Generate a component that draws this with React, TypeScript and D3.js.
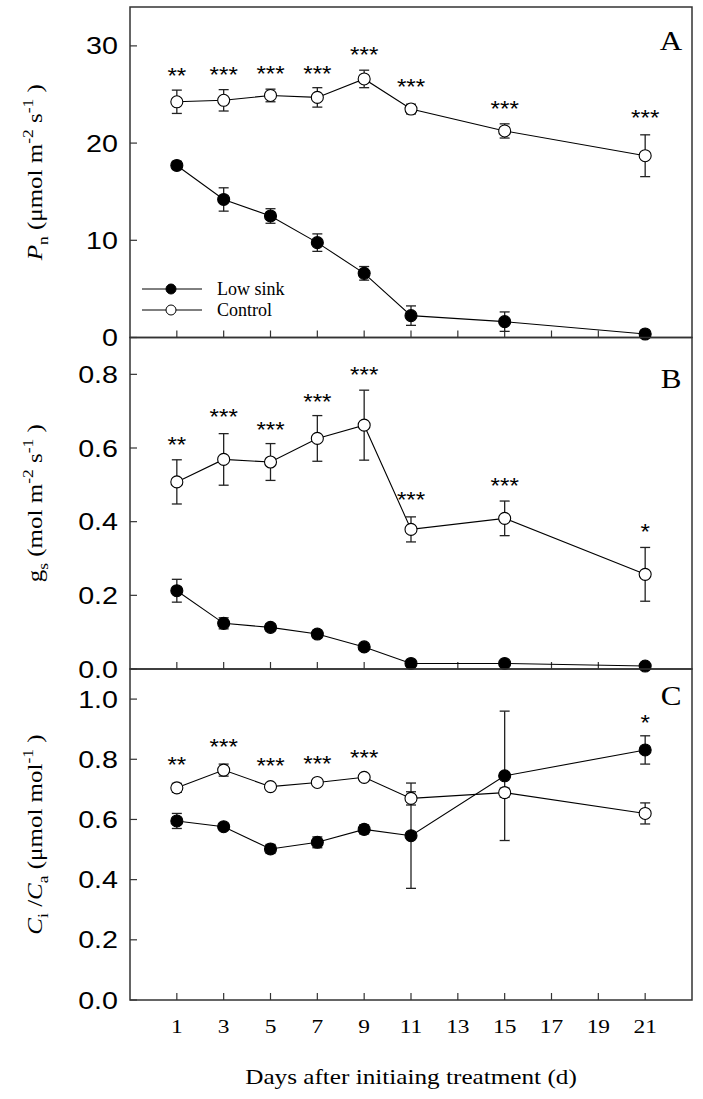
import React from "react";
import * as d3 from "d3";

// ---------- data ----------
const days = [1, 3, 5, 7, 9, 11, 15, 21];
const xTickValues = [1, 3, 5, 7, 9, 11, 13, 15, 17, 19, 21];

// Panel A: Pn
const pnLow = [17.7, 14.2, 12.5, 9.76, 6.6, 2.25, 1.63, 0.36];
const pnLowErr = [0.42, 1.2, 0.75, 0.9, 0.7, 1.0, 1.0, 0.1];
const pnCtrl = [24.25, 24.4, 24.9, 24.7, 26.6, 23.5, 21.25, 18.7];
const pnCtrlErr = [1.2, 1.1, 0.65, 1.0, 0.9, 0.5, 0.73, 2.15];
const pnSig = ["**", "***", "***", "***", "***", "***", "***", "***"];
const pnSigY = [27.5, 27.55, 27.7, 27.7, 29.6, 26.3, 24.1, 23.1];
const pnTicks = [0, 10, 20, 30];

// Panel B: gs
const gsLow = [0.2125, 0.124, 0.113, 0.095, 0.06, 0.015, 0.015, 0.008];
const gsLowErr = [0.031, 0.015, 0.01, 0.01, 0.005, 0.004, 0.004, 0.003];
const gsCtrl = [0.508, 0.569, 0.562, 0.626, 0.662, 0.379, 0.409, 0.257];
const gsCtrlErr = [0.06, 0.07, 0.05, 0.062, 0.095, 0.034, 0.047, 0.073];
const gsSig = ["**", "***", "***", "***", "***", "***", "***", "*"];
const gsSigY = [0.624, 0.698, 0.664, 0.741, 0.813, 0.474, 0.513, 0.388];
const gsTicks = [0, 0.2, 0.4, 0.6, 0.8];

// Panel C: Ci/Ca
const ciLow = [0.595, 0.576, 0.502, 0.524, 0.567, 0.546, 0.745, 0.831];
const ciLowErr = [0.025, 0.01, 0.015, 0.018, 0.015, 0.175, 0.215, 0.047];
const ciCtrl = [0.705, 0.764, 0.709, 0.723, 0.74, 0.67, 0.689, 0.62];
const ciCtrlErr = [0.015, 0.02, 0.01, 0.01, 0.012, 0.022, 0.015, 0.035];
const ciSig = ["**", "***", "***", "***", "***", "", "", "*"];
const ciSigY = [0.8, 0.858, 0.797, 0.803, 0.823, 0, 0, 0.94];
const ciTicks = [0, 0.2, 0.4, 0.6, 0.8, 1.0];

const legendLabels = ["Low sink", "Control"];
const xTitle = "Days after initiaing treatment (d)";

// ---------- layout ----------
const W = 703;
const H = 1099;
const left = 130;
const right = 692;
const edges = [7, 337.5, 669, 1000];
const SERIF = "'Liberation Serif', 'Times New Roman', serif";
const SANS = "'Liberation Sans', Arial, sans-serif";
const FRAME = "#333";

export default function App() {
  const x = d3.scaleLinear().domain([-1, 23]).range([left, right]);

  const panels = [
    {
      low: pnLow, lowErr: pnLowErr, ctrl: pnCtrl, ctrlErr: pnCtrlErr,
      sig: pnSig, sigY: pnSigY, ticks: pnTicks, domain: [0, 34],
      fmt: d3.format("d"), letter: "A", letterY: 50,
    },
    {
      low: gsLow, lowErr: gsLowErr, ctrl: gsCtrl, ctrlErr: gsCtrlErr,
      sig: gsSig, sigY: gsSigY, ticks: gsTicks, domain: [0, 0.9],
      fmt: d3.format(".1f"), letter: "B", letterY: 388,
    },
    {
      low: ciLow, lowErr: ciLowErr, ctrl: ciCtrl, ctrlErr: ciCtrlErr,
      sig: ciSig, sigY: ciSigY, ticks: ciTicks, domain: [0, 1.1],
      fmt: d3.format(".1f"), letter: "C", letterY: 705,
    },
  ];

  const sub = 14;
  const labels = [
    (
      <>
        <tspan fontStyle="italic">P</tspan>
        <tspan fontSize={sub} dy={6}>n</tspan>
        <tspan dy={-6}> (μmol m</tspan>
        <tspan fontSize={sub} dy={-9}>-2</tspan>
        <tspan dy={9}> s</tspan>
        <tspan fontSize={sub} dy={-9}>-1</tspan>
        <tspan dy={9}> )</tspan>
      </>
    ),
    (
      <>
        <tspan>g</tspan>
        <tspan fontSize={sub} dy={6}>s</tspan>
        <tspan dy={-6}> (mol m</tspan>
        <tspan fontSize={sub} dy={-9}>-2</tspan>
        <tspan dy={9}> s</tspan>
        <tspan fontSize={sub} dy={-9}>-1</tspan>
        <tspan dy={9}> )</tspan>
      </>
    ),
    (
      <>
        <tspan fontStyle="italic">C</tspan>
        <tspan fontSize={sub} dy={6}>i</tspan>
        <tspan dy={-6}> /</tspan>
        <tspan fontStyle="italic">C</tspan>
        <tspan fontSize={sub} dy={6}>a</tspan>
        <tspan dy={-6}> (μmol mol</tspan>
        <tspan fontSize={sub} dy={-9}>-1</tspan>
        <tspan dy={9}> )</tspan>
      </>
    ),
  ];

  return (
    <svg
      width={W}
      height={H}
      style={{ position: "absolute", left: 0, top: 0, background: "#fff" }}
    >
      <rect x={0} y={0} width={W} height={H} fill="#fff" />
      {panels.map((p, pi) => {
        const top = edges[pi];
        const bottom = edges[pi + 1];
        const y = d3.scaleLinear().domain(p.domain).range([bottom, top]);
        const line = d3
          .line<number>()
          .x((_, i) => x(days[i]))
          .y((v) => y(v));
        const series = [
          { vals: p.low, errs: p.lowErr, fill: "#000" },
          { vals: p.ctrl, errs: p.ctrlErr, fill: "#fff" },
        ];
        return (
          <g key={pi}>
            {/* frame */}
            <rect
              x={left}
              y={top}
              width={right - left}
              height={bottom - top}
              fill="none"
              stroke={FRAME}
              strokeWidth={1.5}
            />
            {/* y ticks */}
            {p.ticks.map((t) => (
              <g key={"yt" + t}>
                <line x1={left} x2={left + 7} y1={y(t)} y2={y(t)} stroke={FRAME} strokeWidth={1.2} />
                <text
                  transform={`translate(118,${y(t) + 8.5}) scale(1.22,1)`}
                  textAnchor="end"
                  fontFamily={SANS}
                  fontSize={23.5}
                  fill="#000"
                >
                  {p.fmt(t)}
                </text>
              </g>
            ))}
            {/* x ticks */}
            {xTickValues.map((t) => (
              <line
                key={"xt" + t}
                x1={x(t)}
                x2={x(t)}
                y1={bottom}
                y2={bottom - 7}
                stroke={FRAME}
                strokeWidth={1.2}
              />
            ))}
            {/* lines */}
            {series.map((s, si) => (
              <path key={"l" + si} d={line(s.vals) || ""} fill="none" stroke="#000" strokeWidth={1.1} />
            ))}
            {/* error bars */}
            {series.map((s, si) => (
              <g key={"e" + si} stroke="#222" strokeWidth={1.3}>
                {s.vals.map((v, i) => {
                  const cx = x(days[i]);
                  const y1 = y(v + s.errs[i]);
                  const y2 = y(v - s.errs[i]);
                  return (
                    <g key={i}>
                      <line x1={cx} x2={cx} y1={y1} y2={y2} />
                      <line x1={cx - 5} x2={cx + 5} y1={y1} y2={y1} />
                      <line x1={cx - 5} x2={cx + 5} y1={y2} y2={y2} />
                    </g>
                  );
                })}
              </g>
            ))}
            {/* markers */}
            {series.map((s, si) => (
              <g key={"m" + si}>
                {s.vals.map((v, i) => (
                  <circle
                    key={i}
                    cx={x(days[i])}
                    cy={y(v)}
                    r={6}
                    fill={s.fill}
                    stroke="#000"
                    strokeWidth={1.1}
                  />
                ))}
              </g>
            ))}
            {/* significance */}
            {p.sig.map((s, i) =>
              s ? (
                <text
                  key={"s" + i}
                  transform={`translate(${x(days[i])},${y(p.sigY[i]) + 12.5}) scale(1.1,1)`}
                  textAnchor="middle"
                  fontFamily={SANS}
                  fontSize={22}
                  fill="#000"
                >
                  {s}
                </text>
              ) : null
            )}
            {/* panel letter */}
            <text
              transform={`translate(671,${p.letterY}) scale(1.15,1)`}
              textAnchor="middle"
              fontFamily={SERIF}
              fontSize={27}
              fill="#000"
            >
              {p.letter}
            </text>
            {/* y label */}
            <text
              transform={`translate(42,${(top + bottom) / 2}) rotate(-90) scale(1.25,1)`}
              textAnchor="middle"
              fontFamily={SERIF}
              fontSize={20}
              fill="#000"
            >
              {labels[pi]}
            </text>
          </g>
        );
      })}

      {/* legend */}
      {legendLabels.map((lab, i) => {
        const ly = 289 + i * 21;
        return (
          <g key={lab}>
            <line x1={142} x2={202} y1={ly} y2={ly} stroke="#000" strokeWidth={1} />
            <circle cx={171} cy={ly} r={5} fill={i === 0 ? "#000" : "#fff"} stroke="#000" strokeWidth={1} />
            <text x={217} y={ly + 6} fontFamily={SERIF} fontSize={18} fill="#000">
              {lab}
            </text>
          </g>
        );
      })}

      {/* x tick labels */}
      {xTickValues.map((t) => (
        <text
          key={"xl" + t}
          transform={`translate(${x(t)},1033) scale(1.2,1)`}
          textAnchor="middle"
          fontFamily={SERIF}
          fontSize={19.5}
          fill="#000"
        >
          {t}
        </text>
      ))}
      <text
        transform={`translate(${(left + right) / 2},1084) scale(1.2,1)`}
        textAnchor="middle"
        fontFamily={SERIF}
        fontSize={21}
        fill="#000"
      >
        {xTitle}
      </text>
    </svg>
  );
}
